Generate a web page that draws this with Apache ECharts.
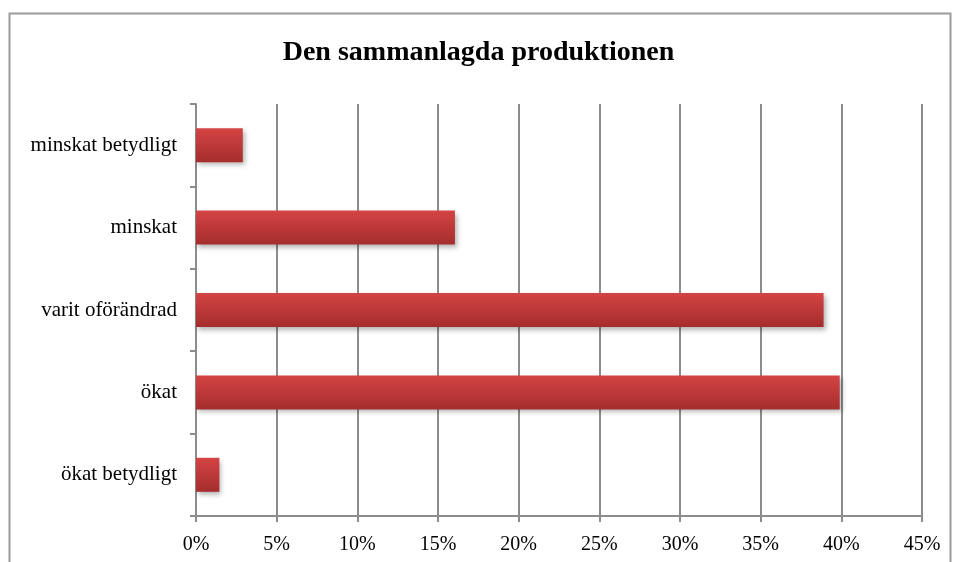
<!DOCTYPE html>
<html>
<head>
<meta charset="utf-8">
<script src="https://cdn.jsdelivr.net/npm/echarts@6/dist/echarts.min.js"></script>
<style>
  html, body { margin: 0; padding: 0; background: #fff; }
  #main { width: 957px; height: 562px; }
</style>
</head>
<body>
<div id="main"></div>
<script>
// kategorier, nedifrån och upp
var categories = ['ökat betydligt', 'ökat', 'varit oförändrad', 'minskat', 'minskat betydligt'];
var values = [1.45, 39.9, 38.9, 16.05, 2.9];
var xTicks = [0, 5, 10, 15, 20, 25, 30, 35, 40, 45];

var dom = document.getElementById('main');
var myChart = echarts.init(dom);
var serif = '"Liberation Serif", "DejaVu Serif", serif';
var gray = '#8c8c8c';

var option = {
    backgroundColor: '#fff',
    animation: false,
    title: {
        text: 'Den sammanlagda produktionen',
        left: 'center',
        top: 34,
        textStyle: { fontFamily: serif, fontSize: 28, fontWeight: 'bold', color: '#000' }
    },
    graphic: [{
        type: 'rect',
        shape: { x: 9.5, y: 13.5, width: 941, height: 570 },
        style: { fill: 'none', stroke: '#9a9a9a', lineWidth: 2 },
        silent: true
    }],
    grid: { left: 196, right: 35, top: 104, bottom: 46 },
    xAxis: {
        type: 'value',
        min: xTicks[0],
        max: xTicks[xTicks.length - 1],
        interval: 5,
        axisLine: { show: true, lineStyle: { color: gray, width: 2 } },
        axisTick: { show: true, length: 6, lineStyle: { color: gray, width: 2 } },
        axisLabel: {
            margin: 19,
            fontFamily: serif, fontSize: 20, color: '#000',
            formatter: function (v) { return v + '%'; }
        },
        splitLine: { show: true, lineStyle: { color: gray, width: 2 } }
    },
    yAxis: {
        type: 'category',
        data: categories,
        axisLine: { show: true, lineStyle: { color: gray, width: 2 } },
        axisTick: { show: true, length: 6, lineStyle: { color: gray, width: 2 } },
        axisLabel: { margin: 19, fontFamily: serif, fontSize: 21, color: '#000' },
        splitLine: { show: false }
    },
    series: [{
        type: 'bar',
        data: values,
        barWidth: 34,
        itemStyle: {
            color: new echarts.graphic.LinearGradient(0, 0, 0, 1, [
                { offset: 0, color: '#d44444' },
                { offset: 1, color: '#a52d2d' }
            ]),
            shadowColor: 'rgba(0,0,0,0.3)',
            shadowBlur: 5,
            shadowOffsetX: 2,
            shadowOffsetY: 3
        }
    }]
};

if (option && typeof option === "object") {
    myChart.setOption(option, true);
}
</script>
</body>
</html>
